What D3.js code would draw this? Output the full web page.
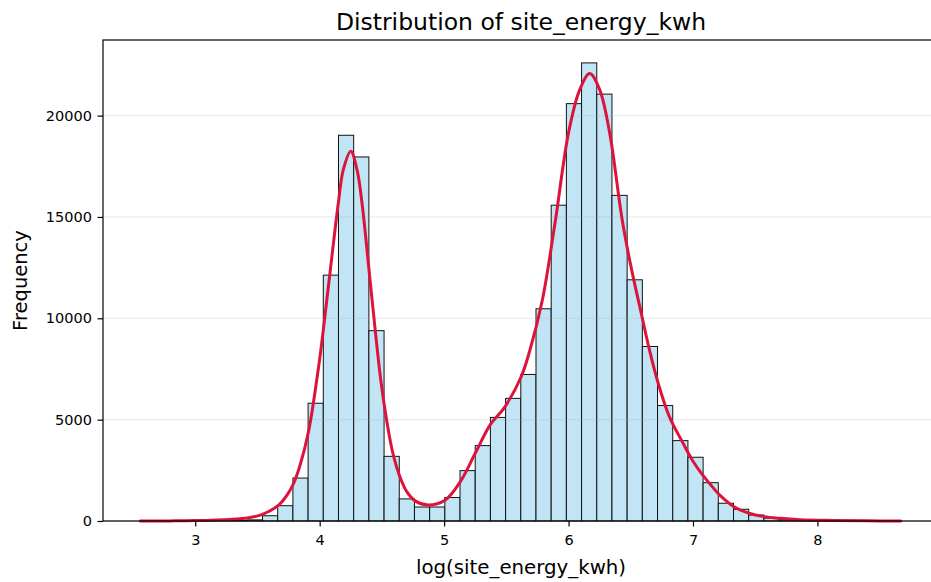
<!DOCTYPE html>
<html>
<head>
<meta charset="utf-8">
<script src="https://cdn.jsdelivr.net/npm/d3@7"></script>
<style>
  html, body { margin: 0; padding: 0; background: #fff; }
  svg { display: block; font-family: "DejaVu Sans", sans-serif; }
</style>
</head>
<body>
<div id="chart"></div>
<script>
// ---- data ----
const titleText = "Distribution of site_energy_kwh";
const xLabel = "log(site_energy_kwh)";
const yLabel = "Frequency";

const binStart = 2.564;   // left edge of first bin
const binWidth = 0.12209; // width of each bin
const counts = [
  2, 0, 3, 5, 8, 15, 25, 55, 260, 755,
  2120, 5810, 12130, 19030, 17960, 9390, 3190, 1090, 690, 690,
  1160, 2485, 3720, 5110, 6050, 7230, 10470, 15580, 20590, 22600,
  21060, 16065, 11900, 8610, 5695, 3965, 3145, 1890, 875, 578,
  295, 140, 60, 30, 15, 8, 4, 2, 1, 1
];

const kdeX = [2.56, 2.8, 3.0, 3.28, 3.43, 3.54, 3.67, 3.74, 3.79, 3.84,
  3.91, 4.0, 4.07, 4.15, 4.19, 4.25, 4.30, 4.34, 4.41, 4.49,
  4.54, 4.59, 4.65, 4.70, 4.77, 4.87, 5.01, 5.13, 5.25, 5.37, 5.49,
  5.62, 5.69, 5.79, 5.89, 6.0, 6.09, 6.17, 6.25, 6.33, 6.43,
  6.5, 6.59, 6.65, 6.72, 6.81, 6.92, 7.0, 7.08, 7.14, 7.22, 7.33,
  7.45, 7.57, 7.70, 7.86, 8.13, 8.4, 8.67];
const kdeY = [0, 5, 20, 80, 165, 330, 780, 1300, 1850, 2700,
  4400, 8000, 11570, 15690, 17330, 18240, 17330, 15690, 11570, 7000,
  4900, 3300, 2100, 1450, 980, 790, 1040, 1940, 3340, 4740, 5645,
  7130, 8440, 10914, 14650, 19160, 21280, 22075, 21280, 19160, 14900,
  12600, 10090, 8440, 6800, 5150, 3840, 2950, 2250, 1800, 1250, 700,
  380, 215, 130, 65, 30, 10, 0];

const xTicks = [3, 4, 5, 6, 7, 8];
const yTicks = [0, 5000, 10000, 15000, 20000];

// ---- layout ----
const W = 931, H = 582;
const mLeft = 103, mTop = 40, mBottom = 521, mRight = 938.6;

const bins = counts.map((c, i) => ({ x0: binStart + i * binWidth, x1: binStart + (i + 1) * binWidth, n: c }));
const lo = bins[0].x0, hi = bins[bins.length - 1].x1, span = hi - lo;

const x = d3.scaleLinear().domain([lo - 0.05 * span, hi + 0.05 * span]).range([mLeft, mRight]);
const y = d3.scaleLinear().domain([0, d3.max(counts) * 1.05]).range([mBottom, mTop]);

const svg = d3.select("#chart").append("svg").attr("width", W).attr("height", H);

// bars
svg.append("g").selectAll("rect").data(bins).join("rect")
  .attr("x", d => x(d.x0))
  .attr("y", d => y(d.n))
  .attr("width", d => x(d.x1) - x(d.x0))
  .attr("height", d => y(0) - y(d.n))
  .attr("fill", "#c1e5f4")
  .attr("stroke", "#111")
  .attr("stroke-width", 1);

// grid (above patches, below line)
svg.append("g").selectAll("line").data(yTicks).join("line")
  .attr("x1", mLeft).attr("x2", mRight)
  .attr("y1", d => y(d)).attr("y2", d => y(d))
  .attr("stroke", "#b0b0b0").attr("stroke-opacity", 0.3).attr("stroke-width", 1);

// KDE
const kde = kdeX.map((v, i) => [v, kdeY[i]]);
svg.append("path").datum(kde)
  .attr("fill", "none")
  .attr("stroke", "#dc143c")
  .attr("stroke-width", 3)
  .attr("stroke-linejoin", "round")
  .attr("stroke-linecap", "round")
  .attr("d", d3.line().x(d => x(d[0])).y(d => Math.min(y(0), y(d[1]))).curve(d3.curveCatmullRom.alpha(0.5)));

// axes
const xAxis = d3.axisBottom(x).tickValues(xTicks).tickFormat(d3.format("d")).tickSize(5.5).tickPadding(8.5);
const yAxis = d3.axisLeft(y).tickValues(yTicks).tickFormat(d3.format("d")).tickSize(5.5).tickPadding(5.5);

const gx = svg.append("g").attr("transform", `translate(0,${mBottom})`).call(xAxis);
const gy = svg.append("g").attr("transform", `translate(${mLeft},0)`).call(yAxis);
[gx, gy].forEach(g => {
  g.select(".domain").remove();
  g.selectAll(".tick line").attr("stroke", "#000").attr("stroke-width", 1.2);
  g.selectAll(".tick text").attr("fill", "#000").attr("font-size", "14.5px").attr("font-family", "DejaVu Sans");
});

// spines
svg.append("rect")
  .attr("x", mLeft).attr("y", mTop)
  .attr("width", mRight - mLeft).attr("height", mBottom - mTop)
  .attr("fill", "none").attr("stroke", "#000").attr("stroke-width", 1.2);

// labels
svg.append("text").attr("x", 521).attr("y", 29.5)
  .attr("text-anchor", "middle").attr("font-size", "23.5px").attr("fill", "#000").text(titleText);
svg.append("text").attr("x", 521).attr("y", 574)
  .attr("text-anchor", "middle").attr("font-size", "19.8px").attr("fill", "#000").text(xLabel);
svg.append("text").attr("transform", `translate(27,${(mTop + mBottom) / 2}) rotate(-90)`)
  .attr("text-anchor", "middle").attr("font-size", "19.5px").attr("fill", "#000").text(yLabel);
</script>
</body>
</html>
